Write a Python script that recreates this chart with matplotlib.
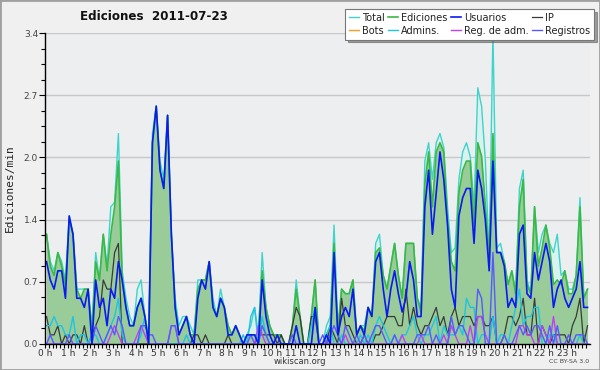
import numpy as np
import matplotlib
matplotlib.use("Agg")
import matplotlib.pyplot as plt
from matplotlib.patches import Rectangle
from matplotlib.lines import Line2D

# ---------------- data (edits per minute, 10-minute bins, 0h..23h50) ----------------
hour_labels = [f"{h} h" for h in range(24)]
y_ticks = [0.0, 0.68, 1.36, 2.04, 2.72, 3.4]

total = [
    1.2, 0.9, 0.8, 1.0, 0.9, 0.7,
    1.4, 1.2, 0.6, 0.6, 0.6, 0.6,
    0.2, 1.0, 0.7, 1.2, 0.85, 1.5,
    1.55, 2.3, 0.8, 0.5, 0.3, 0.2,
    0.6, 0.7, 0.3, 0.1, 2.3, 2.6,
    2.0, 1.8, 2.5, 1.2, 0.5, 0.2,
    0.3, 0.3, 0.2, 0.1, 0.7, 0.7,
    0.7, 0.9, 0.5, 0.3, 0.6, 0.4,
    0.2, 0.1, 0.2, 0.1, 0.0, 0.1,
    0.2, 0.4, 0.1, 1.0, 0.4, 0.2,
    0.1, 0.1, 0.1, 0.0, 0.0, 0.2,
    0.7, 0.3, 0.0, 0.0, 0.3, 0.7,
    0.0, 0.0, 0.2, 0.3, 1.3, 0.2,
    0.6, 0.55, 0.55, 0.7, 0.1, 0.2,
    0.2, 0.4, 0.3, 1.1, 1.2, 0.75,
    0.6, 0.85, 1.1, 0.75, 0.5, 1.1,
    1.1, 1.1, 0.5, 0.4, 2.0, 2.2,
    1.8, 2.2, 2.3, 2.15, 1.5, 1.0,
    1.05, 1.8, 2.1, 2.2, 2.05, 1.5,
    2.8, 2.6, 2.0, 0.95, 3.4, 1.05,
    1.1, 0.9, 0.65, 0.8, 0.55, 1.7,
    1.9, 0.7, 0.55, 1.5, 1.0, 1.2,
    1.3, 1.1, 1.0, 1.2, 0.75, 0.8,
    0.6, 0.6, 0.75, 1.6, 0.5, 0.6,
]

ediciones = [
    1.2, 0.85, 0.75, 1.0, 0.85, 0.65,
    1.35, 1.2, 0.6, 0.5, 0.6, 0.6,
    0.1, 0.9, 0.7, 1.2, 0.8, 1.2,
    1.5, 2.0, 0.7, 0.4, 0.2, 0.2,
    0.4, 0.5, 0.3, 0.0, 2.2, 2.6,
    1.9, 1.7, 2.5, 1.2, 0.4, 0.1,
    0.2, 0.3, 0.1, 0.1, 0.6, 0.7,
    0.7, 0.9, 0.4, 0.3, 0.5, 0.4,
    0.2, 0.1, 0.2, 0.1, 0.0, 0.1,
    0.1, 0.1, 0.1, 0.8, 0.4, 0.2,
    0.1, 0.1, 0.1, 0.0, 0.0, 0.2,
    0.6, 0.3, 0.0, 0.0, 0.3, 0.7,
    0.0, 0.0, 0.1, 0.2, 1.1, 0.1,
    0.6, 0.55, 0.55, 0.7, 0.1, 0.2,
    0.15, 0.4, 0.3, 1.0, 1.05, 0.75,
    0.6, 0.85, 1.1, 0.75, 0.5, 1.1,
    1.1, 1.1, 0.5, 0.35, 1.75, 2.1,
    1.5, 2.1, 2.2, 2.1, 1.35, 0.9,
    0.8, 1.65, 1.9, 2.0, 2.0, 1.3,
    2.2, 2.05, 1.5, 0.95, 2.3, 1.0,
    1.0, 0.9, 0.65, 0.8, 0.55, 1.5,
    1.8, 0.65, 0.55, 1.5, 0.85, 1.05,
    1.3, 1.05, 0.65, 0.7, 0.65, 0.8,
    0.55, 0.55, 0.75, 1.5, 0.5, 0.6,
]

usuarios = [
    0.9, 0.7, 0.6, 0.8, 0.8, 0.5,
    1.4, 1.2, 0.5, 0.5, 0.4, 0.6,
    0.0, 0.7, 0.4, 0.5, 0.2, 0.6,
    0.5, 0.9, 0.7, 0.4, 0.2, 0.2,
    0.4, 0.5, 0.3, 0.0, 2.2, 2.6,
    1.9, 1.7, 2.5, 1.2, 0.4, 0.1,
    0.2, 0.3, 0.1, 0.0, 0.5, 0.7,
    0.6, 0.9, 0.4, 0.3, 0.5, 0.4,
    0.1, 0.1, 0.2, 0.1, 0.0, 0.1,
    0.1, 0.1, 0.0, 0.7, 0.3, 0.1,
    0.0, 0.1, 0.0, 0.0, 0.0, 0.0,
    0.2, 0.0, 0.0, 0.0, 0.0, 0.4,
    0.0, 0.0, 0.1, 0.0, 1.0, 0.1,
    0.3, 0.4, 0.3, 0.6, 0.1, 0.2,
    0.1, 0.4, 0.3, 0.9, 1.0, 0.6,
    0.3, 0.6, 0.8, 0.55, 0.35, 0.5,
    0.9, 0.7, 0.3, 0.3, 1.5, 1.9,
    1.2, 1.65, 2.1, 1.8, 1.3, 0.6,
    0.4, 1.4, 1.6, 1.7, 1.7, 1.1,
    1.9, 1.7, 1.35, 0.8, 2.0, 1.0,
    1.0, 0.85, 0.4, 0.5, 0.4, 1.2,
    1.3, 0.55, 0.5, 1.0, 0.7, 0.9,
    1.1, 0.9, 0.4, 0.6, 0.7, 0.5,
    0.4, 0.5, 0.6, 0.9, 0.4, 0.4,
]

ip = [
    0.3, 0.1, 0.1, 0.2, 0.0, 0.1,
    0.0, 0.1, 0.1, 0.0, 0.2, 0.0,
    0.1, 0.2, 0.3, 0.7, 0.6, 0.6,
    1.0, 1.1, 0.0, 0.0, 0.0, 0.0,
    0.0, 0.0, 0.0, 0.0, 0.0, 0.0,
    0.0, 0.0, 0.0, 0.0, 0.0, 0.0,
    0.0, 0.0, 0.0, 0.1, 0.1, 0.0,
    0.1, 0.0, 0.0, 0.0, 0.0, 0.0,
    0.1, 0.0, 0.0, 0.0, 0.0, 0.0,
    0.0, 0.0, 0.1, 0.1, 0.1, 0.1,
    0.1, 0.0, 0.1, 0.0, 0.0, 0.2,
    0.4, 0.3, 0.0, 0.0, 0.3, 0.3,
    0.0, 0.0, 0.0, 0.2, 0.1, 0.0,
    0.5, 0.2, 0.2, 0.1, 0.0, 0.0,
    0.1, 0.0, 0.0, 0.1, 0.1, 0.2,
    0.3, 0.3, 0.3, 0.2, 0.2, 0.6,
    0.2, 0.4, 0.2, 0.1, 0.2, 0.2,
    0.3, 0.4, 0.2, 0.3, 0.1, 0.3,
    0.4, 0.2, 0.3, 0.3, 0.3, 0.2,
    0.3, 0.3, 0.2, 0.2, 0.3, 0.0,
    0.0, 0.1, 0.3, 0.3, 0.2, 0.3,
    0.5, 0.1, 0.1, 0.5, 0.0, 0.2,
    0.1, 0.0, 0.1, 0.1, 0.1, 0.1,
    0.0, 0.2, 0.3, 0.5, 0.0, 0.2,
]

bots = [0.0] * 144

admins = [
    0.2, 0.2, 0.3, 0.2, 0.2, 0.1,
    0.1, 0.3, 0.0, 0.1, 0.1, 0.0,
    0.1, 0.1, 0.0, 0.0, 0.1, 0.2,
    0.3, 0.5, 0.1, 0.0, 0.0, 0.0,
    0.0, 0.1, 0.3, 0.0, 0.0, 0.0,
    0.0, 0.0, 0.0, 0.0, 0.0, 0.0,
    0.0, 0.1, 0.0, 0.0, 0.0, 0.0,
    0.0, 0.0, 0.0, 0.0, 0.0, 0.0,
    0.0, 0.0, 0.0, 0.0, 0.1, 0.0,
    0.3, 0.4, 0.0, 0.3, 0.1, 0.0,
    0.0, 0.0, 0.0, 0.0, 0.0, 0.0,
    0.0, 0.0, 0.0, 0.0, 0.2, 0.4,
    0.0, 0.0, 0.1, 0.2, 0.0, 0.0,
    0.1, 0.0, 0.0, 0.0, 0.0, 0.1,
    0.0, 0.1, 0.0, 0.2, 0.3, 0.2,
    0.1, 0.0, 0.1, 0.0, 0.1, 0.1,
    0.2, 0.3, 0.1, 0.0, 0.1, 0.1,
    0.2, 0.3, 0.0, 0.2, 0.1, 0.1,
    0.1, 0.2, 0.1, 0.5, 0.4, 0.4,
    0.0, 0.1, 0.1, 0.0, 0.3, 0.0,
    0.1, 0.1, 0.0, 0.2, 0.4, 0.6,
    0.2, 0.3, 0.3, 0.4, 0.4, 0.0,
    0.0, 0.1, 0.1, 0.0, 0.0, 0.0,
    0.0, 0.0, 0.0, 0.1, 0.0, 0.0,
]

reg_adm = [
    0.0, 0.0, 0.0, 0.0, 0.0, 0.0,
    0.0, 0.0, 0.0, 0.0, 0.0, 0.0,
    0.0, 0.0, 0.0, 0.0, 0.0, 0.1,
    0.2, 0.1, 0.0, 0.0, 0.0, 0.0,
    0.1, 0.2, 0.1, 0.0, 0.0, 0.0,
    0.0, 0.0, 0.0, 0.2, 0.2, 0.0,
    0.0, 0.0, 0.0, 0.0, 0.0, 0.0,
    0.0, 0.0, 0.0, 0.0, 0.0, 0.0,
    0.0, 0.0, 0.0, 0.0, 0.0, 0.0,
    0.0, 0.0, 0.2, 0.1, 0.0, 0.0,
    0.0, 0.0, 0.0, 0.0, 0.0, 0.0,
    0.0, 0.0, 0.0, 0.0, 0.0, 0.0,
    0.0, 0.0, 0.0, 0.0, 0.0, 0.0,
    0.0, 0.1, 0.0, 0.0, 0.0, 0.0,
    0.0, 0.0, 0.0, 0.0, 0.0, 0.0,
    0.0, 0.0, 0.0, 0.0, 0.1, 0.0,
    0.0, 0.0, 0.0, 0.1, 0.0, 0.0,
    0.0, 0.0, 0.0, 0.1, 0.0, 0.2,
    0.1, 0.0, 0.0, 0.0, 0.2, 0.0,
    0.3, 0.3, 0.1, 0.0, 0.0, 0.0,
    0.0, 0.0, 0.0, 0.0, 0.0, 0.2,
    0.2, 0.1, 0.1, 0.0, 0.0, 0.2,
    0.1, 0.0, 0.3, 0.0, 0.0, 0.0,
    0.0, 0.0, 0.0, 0.0, 0.0, 0.0,
]

registros = [
    0.0, 0.1, 0.0, 0.0, 0.0, 0.0,
    0.1, 0.0, 0.0, 0.0, 0.0, 0.0,
    0.0, 0.2, 0.1, 0.0, 0.1, 0.2,
    0.1, 0.3, 0.2, 0.0, 0.0, 0.0,
    0.0, 0.2, 0.2, 0.1, 0.1, 0.0,
    0.0, 0.0, 0.0, 0.2, 0.2, 0.0,
    0.0, 0.0, 0.0, 0.0, 0.0, 0.0,
    0.0, 0.0, 0.0, 0.0, 0.0, 0.0,
    0.0, 0.0, 0.0, 0.0, 0.0, 0.0,
    0.1, 0.0, 0.0, 0.2, 0.1, 0.0,
    0.0, 0.0, 0.0, 0.0, 0.0, 0.1,
    0.0, 0.0, 0.0, 0.0, 0.0, 0.0,
    0.0, 0.1, 0.0, 0.1, 0.2, 0.1,
    0.0, 0.2, 0.1, 0.0, 0.1, 0.0,
    0.1, 0.0, 0.1, 0.2, 0.2, 0.1,
    0.0, 0.0, 0.1, 0.0, 0.0, 0.0,
    0.0, 0.0, 0.1, 0.1, 0.1, 0.2,
    0.0, 0.1, 0.0, 0.0, 0.0, 0.3,
    0.1, 0.2, 0.2, 0.1, 0.0, 0.0,
    0.6, 0.5, 0.0, 0.0, 1.0, 0.0,
    0.0, 0.1, 0.0, 0.0, 0.1, 0.2,
    0.1, 0.2, 0.1, 0.2, 0.2, 0.1,
    0.0, 0.2, 0.0, 0.2, 0.0, 0.0,
    0.1, 0.0, 0.1, 0.1, 0.1, 0.0,
]

# ---------------- figure ----------------
plt.rcParams['font.family'] = ['DejaVu Sans']

fig = plt.figure(figsize=(6.0, 3.7), dpi=100, facecolor='#f0f0f0')
fig.patches.append(Rectangle((0, 0), 1, 1, transform=fig.transFigure, fill=False,
                             edgecolor='#a0a0a0', lw=2))

ax = fig.add_axes([0.075, 0.0703, 0.908, 0.8405])
ax.set_facecolor('#eceef0')

n = len(total)
x = (np.arange(n) + 0.4) / 6.0

ax.fill_between(x, total, 0, color='#daf2ee', lw=0, zorder=2)
ax.fill_between(x, ediciones, 0, color='#99cc99', lw=0, zorder=2.1)

ax.plot(x, bots, color='#ff9922', lw=1, zorder=1, label='Bots')
l_total, = ax.plot(x, total, color='#3ed4cc', lw=1.0, zorder=3, label='Total')
l_ed, = ax.plot(x, ediciones, color='#3cb844', lw=1.2, zorder=3.1, label='Ediciones')
l_ip, = ax.plot(x, ip, color='#3a3a3a', lw=0.9, zorder=3.2, label='IP')
l_adm, = ax.plot(x, admins, color='#1ec4e4', lw=1.0, zorder=3.3, label='Admins.')
l_rega, = ax.plot(x, reg_adm, color='#c040f0', lw=1.0, zorder=3.4, label='Reg. de adm.')
l_reg, = ax.plot(x, registros, color='#5858ff', lw=1.0, zorder=3.5, label='Registros')
l_us, = ax.plot(x, usuarios, color='#0a1af0', lw=1.2, zorder=3.6, label='Usuarios')

ax.set_xlim(0, 24)
ax.set_ylim(0, 3.4)

ax.set_yticks(y_ticks)
ax.set_yticklabels([f"{v:.1f}" for v in y_ticks])
ax.set_yticks(np.linspace(0, 3.4, 21), minor=True)
ax.set_xticks(np.arange(24))
ax.set_xticklabels(hour_labels)
ax.set_xticks(np.arange(0, 24, 1 / 6), minor=True)

ax.tick_params(axis='x', which='major', direction='out', length=3, width=0.8,
               color='black', labelsize=6.5, labelcolor='#333333', pad=0.5)
ax.tick_params(axis='y', which='major', direction='out', length=4, width=0.8,
               color='black', labelsize=6.5, labelcolor='#444444', pad=1)
ax.tick_params(axis='both', which='minor', direction='out', length=3, width=0.8,
               color='black')

ax.yaxis.grid(True, which='major', color='#c8c8c8', lw=1)
ax.set_axisbelow(True)
for s in ('top', 'right'):
    ax.spines[s].set_visible(False)
for s in ('left', 'bottom'):
    ax.spines[s].set_color('black')
    ax.spines[s].set_linewidth(1.0)
    ax.spines[s].set_zorder(5)

ax.set_ylabel('Ediciones/min', family='DejaVu Sans Mono', fontsize=8, color='#222222',
              labelpad=6)

fig.text(0.257, 0.955, 'Ediciones  2011-07-23', fontsize=8.6, fontweight='bold',
         ha='center', va='center', color='#111111')

l_bots = Line2D([], [], color='#ff9922', lw=1)
handles = [l_total, l_bots, l_ed, l_adm, l_us, l_rega, l_ip, l_reg]
labels = ['Total', 'Bots', 'Ediciones', 'Admins.', 'Usuarios', 'Reg. de adm.', 'IP', 'Registros']
leg = fig.legend(handles, labels, ncol=4, loc='upper left', bbox_to_anchor=(0.575, 0.976),
                 fontsize=7, handlelength=1.0, handletextpad=0.35, columnspacing=0.35,
                 labelspacing=0.3, borderpad=0.4, borderaxespad=0, fancybox=False,
                 shadow=True, framealpha=1, edgecolor='#777777', facecolor='white')
leg.get_frame().set_linewidth(0.8)
for t in leg.get_texts():
    t.set_color('#222222')

fig.text(0.5, 0.022, 'wikiscan.org', fontsize=6, ha='center', va='center', color='#333333')
fig.text(0.982, 0.022, 'CC BY-SA 3.0', fontsize=4.5, ha='right', va='center', color='#444444')

fig.savefig('out.png', dpi=100, facecolor=fig.get_facecolor())
